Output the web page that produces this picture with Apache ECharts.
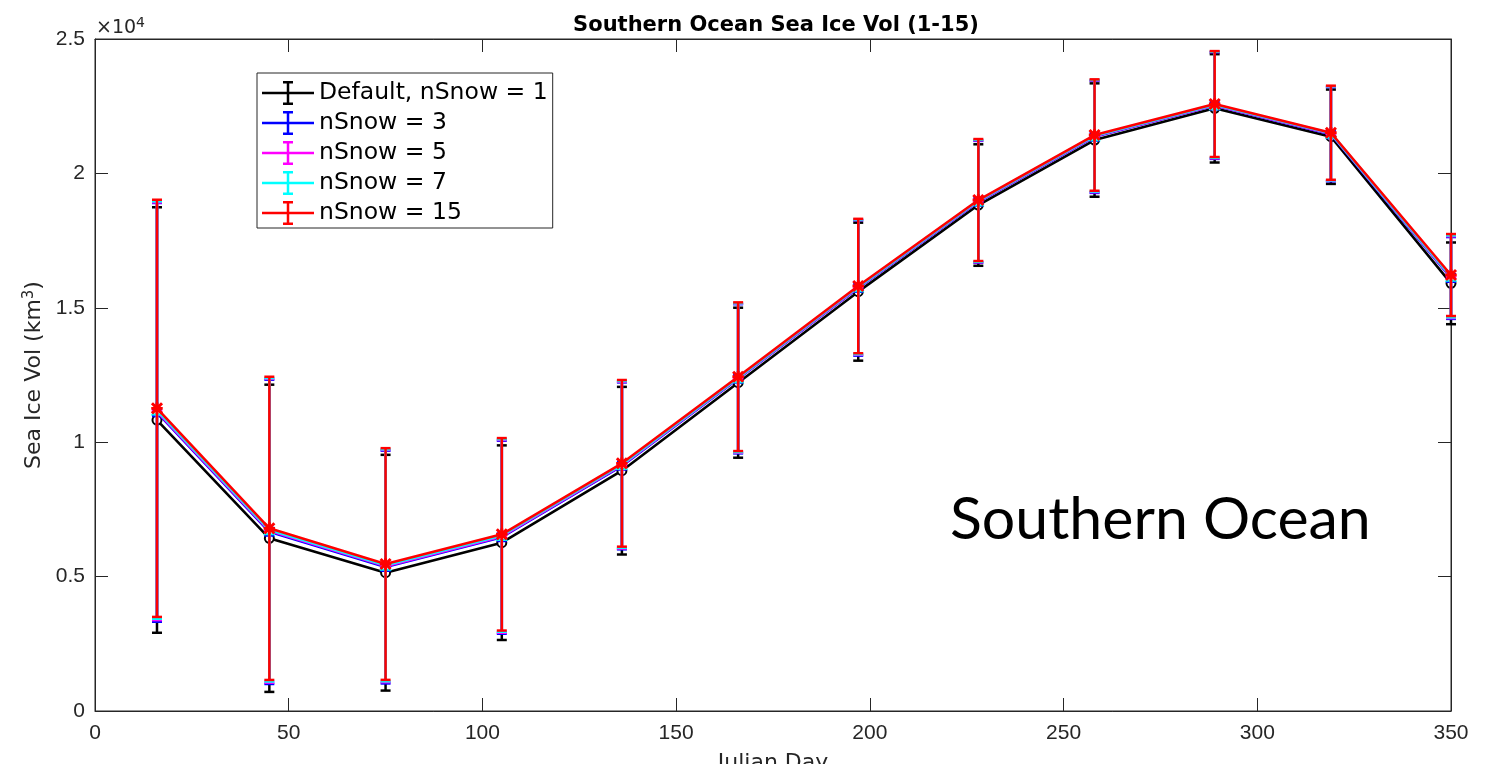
<!DOCTYPE html>
<html>
<head>
<meta charset="utf-8">
<script src="https://cdn.jsdelivr.net/npm/echarts@6/dist/echarts.min.js"></script>
<style>
html,body{margin:0;padding:0;background:#fff;}
#chart{width:1486px;height:764px;}
</style>
</head>
<body>
<div id="chart"></div>
<script>
// ---- data ----
const days = [16, 45, 75, 105, 136, 166, 197, 228, 258, 289, 319, 350];
const seriesNames = ['Default, nSnow = 1', 'nSnow = 3', 'nSnow = 5', 'nSnow = 7', 'nSnow = 15'];
const meanN1  = [10825, 6425, 5145, 6262, 8940, 12213, 15600, 18823, 21241, 22420, 21364, 15910];
const meanN3  = [11110, 6665, 5355, 6465, 9120, 12360, 15740, 18945, 21360, 22525, 21460, 16110];
const meanN5  = [11150, 6705, 5390, 6495, 9145, 12380, 15760, 18963, 21380, 22540, 21475, 16140];
const meanN7  = [11195, 6740, 5420, 6530, 9175, 12400, 15780, 18980, 21400, 22555, 21490, 16170];
const meanN15 = [11260, 6795, 5468, 6573, 9214, 12436, 15810, 19009, 21427, 22580, 21513, 16219];
const stdN1   = [7915, 5715, 4385, 3620, 3118, 2790, 2567, 2260, 2109, 2015, 1755, 1520];
const stdN3   = [7790, 5660, 4330, 3590, 3105, 2775, 2520, 2265, 2085, 1985, 1752, 1522];
const stdN5   = [7770, 5650, 4320, 3585, 3102, 2770, 2510, 2267, 2078, 1978, 1751, 1523];
const stdN7   = [7765, 5645, 4315, 3582, 3101, 2768, 2505, 2268, 2075, 1974, 1750, 1524];
const stdN15  = [7760, 5640, 4310, 3580, 3100, 2766, 2500, 2269, 2072, 1970, 1750, 1525];
const xTicks = [0, 50, 100, 150, 200, 250, 300, 350];
const yTickLabels = ['0', '0.5', '1', '1.5', '2', '2.5'];

// ---- styling ----
const colors = ['#000000', '#0000ff', '#ff00ff', '#00ffff', '#ff0000'];
const means = [meanN1, meanN3, meanN5, meanN7, meanN15];
const stds = [stdN1, stdN3, stdN5, stdN7, stdN15];
const plusPath = 'path://M0,4.2 L10,4.2 L10,5.8 L0,5.8 Z M4.2,0 L5.8,0 L5.8,10 L4.2,10 Z';
const starPath = 'path://M0,4.3 L10,4.3 L10,5.7 L0,5.7 Z M4.3,0 L5.7,0 L5.7,10 L4.3,10 Z M1,0 L10,9 L9,10 L0,1 Z M9,0 L10,1 L1,10 L0,9 Z';
const symbols = ['emptyCircle', 'emptyRect', plusPath, 'emptyTriangle', starPath];
const symbolSizes = [9, 8, 9, 9, 10];
const iconPath = 'path://M0,10.75 L52,10.75 L52,13.25 L0,13.25 Z M24.75,1 L27.25,1 L27.25,23 L24.75,23 Z M21,0 L31,0 L31,2.5 L21,2.5 Z M21,21.5 L31,21.5 L31,24 L21,24 Z';
const axisColor = '#262626';
const font = 'Liberation Sans';
const wideFont = 'DejaVu Sans';

const series = [];
seriesNames.forEach((name, k) => {
  const col = colors[k];
  series.push({
    name: name,
    type: 'custom',
    z: 10 + k * 2,
    silent: true,
    itemStyle: { color: col },
    data: days.map((d, i) => [d, means[k][i], stds[k][i]]),
    renderItem: function (params, api) {
      const x = api.value(0), y = api.value(1), s = api.value(2);
      const lo = api.coord([x, y - s]);
      const hi = api.coord([x, y + s]);
      const hw = 5;
      const st = { stroke: col, lineWidth: 2.5 };
      return {
        type: 'group',
        children: [
          { type: 'line', shape: { x1: lo[0], y1: lo[1], x2: hi[0], y2: hi[1] }, style: st },
          { type: 'line', shape: { x1: lo[0] - hw, y1: lo[1], x2: lo[0] + hw, y2: lo[1] }, style: st },
          { type: 'line', shape: { x1: hi[0] - hw, y1: hi[1], x2: hi[0] + hw, y2: hi[1] }, style: st }
        ]
      };
    }
  });
  series.push({
    name: name,
    type: 'line',
    z: 11 + k * 2,
    silent: true,
    data: days.map((d, i) => [d, means[k][i]]),
    symbol: symbols[k],
    symbolSize: symbolSizes[k],
    showSymbol: true,
    color: col,
    lineStyle: { color: col, width: 2.6 },
    itemStyle: { color: col, borderColor: col, borderWidth: 1.5 },
    emphasis: { disabled: true },
    animation: false
  });
});
// empty series so the mirrored top/right axes are rendered as a box
series.push({ type: 'line', xAxisIndex: 1, yAxisIndex: 1, data: [], silent: true });

const axisLineStyle = { show: true, onZero: false, lineStyle: { color: axisColor, width: 1 } };
const tickStyle = { show: true, inside: true, length: 13, lineStyle: { color: axisColor } };

const chart = echarts.init(document.getElementById('chart'), null, { renderer: 'canvas' });
chart.setOption({
  animation: false,
  backgroundColor: '#ffffff',
  title: {
    text: 'Southern Ocean Sea Ice Vol (1-15)',
    left: 771,
    top: 10,
    textAlign: 'center',
    textStyle: { fontFamily: wideFont, fontSize: 21, fontWeight: 'bold', color: '#000' }
  },
  grid: {
    left: 95, right: 35, top: 39, bottom: 53, containLabel: false,
    outerBoundsMode: 'none',
    show: true, borderColor: axisColor, borderWidth: 1, backgroundColor: 'transparent'
  },
  legend: {
    left: 257,
    top: 73,
    orient: 'vertical',
    selectedMode: false,
    z: 50,
    backgroundColor: '#ffffff',
    borderColor: axisColor,
    borderWidth: 1,
    padding: [8, 5, 3, 5],
    itemGap: 6,
    itemWidth: 52,
    itemHeight: 24,
    textStyle: { fontFamily: wideFont, fontSize: 23.5, color: '#000' },
    data: seriesNames.map((n) => ({ name: n, icon: iconPath }))
  },
  xAxis: [{
    type: 'value',
    min: 0, max: 350, interval: 50,
    name: 'Julian Day',
    nameLocation: 'middle',
    nameGap: 41,
    nameTextStyle: { fontFamily: wideFont, fontSize: 22, color: axisColor },
    axisLine: axisLineStyle,
    axisTick: tickStyle,
    axisLabel: {
      fontFamily: font, fontSize: 21, color: axisColor, margin: 12,
      formatter: (v) => (xTicks.indexOf(v) >= 0 ? String(v) : '')
    },
    splitLine: { show: false }
  }, {
    type: 'value',
    position: 'top',
    min: 0, max: 350, interval: 50,
    axisLine: axisLineStyle,
    axisTick: tickStyle,
    axisLabel: { show: false },
    splitLine: { show: false }
  }],
  yAxis: [{
    type: 'value',
    min: 0, max: 25000, interval: 5000,
    name: '{a|Sea Ice Vol (km}{s|3}{a|)}',
    nameLocation: 'middle',
    nameGap: 42,
    nameTextStyle: {
      rich: {
        a: { fontFamily: wideFont, fontSize: 22, color: axisColor },
        s: { fontFamily: wideFont, fontSize: 15, color: axisColor, verticalAlign: 'top', padding: [0, 0, 9, 0] }
      }
    },
    axisLine: axisLineStyle,
    axisTick: tickStyle,
    axisLabel: {
      fontFamily: font, fontSize: 21, color: axisColor, margin: 10,
      formatter: (v) => yTickLabels[Math.round(v / 5000)]
    },
    splitLine: { show: false }
  }, {
    type: 'value',
    position: 'right',
    min: 0, max: 25000, interval: 5000,
    axisLine: axisLineStyle,
    axisTick: tickStyle,
    axisLabel: { show: false },
    splitLine: { show: false }
  }],
  graphic: [
    {
      type: 'text',
      left: 96,
      top: 16,
      z: 100,
      style: {
        text: '{a|×10}{s|4}',
        rich: {
          a: { fontFamily: wideFont, fontSize: 19, fill: axisColor },
          s: { fontFamily: wideFont, fontSize: 14, fill: axisColor, verticalAlign: 'top', padding: [0, 0, 11, 0] }
        }
      }
    },
    {
      type: 'text',
      left: 950,
      top: 490,
      z: 100,
      style: { text: 'Southern Ocean', fontFamily: 'Lato', fontSize: 59, fill: '#000' }
    }
  ],
  series: series
});
</script>
</body>
</html>
